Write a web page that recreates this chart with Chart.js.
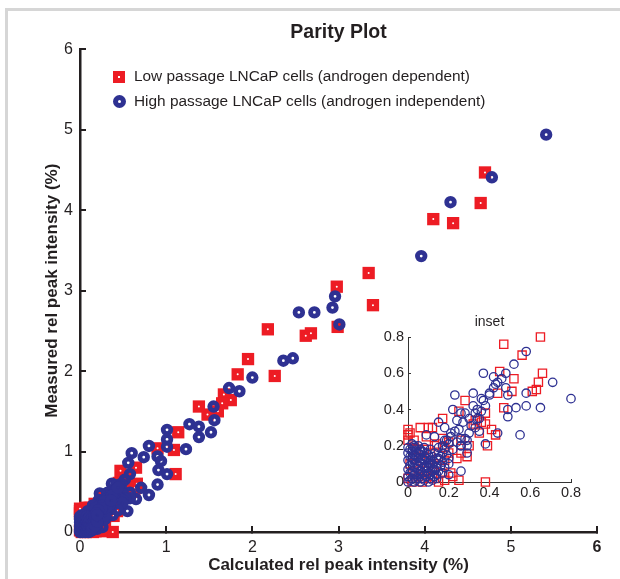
<!DOCTYPE html>
<html>
<head>
<meta charset="utf-8">
<script src="https://cdn.jsdelivr.net/npm/chart.js@4.4.1/dist/chart.umd.min.js"></script>
<style>
html, body { margin: 0; padding: 0; background: #fff; }
#wrap { position: relative; width: 620px; height: 579px; overflow: hidden; font-family: "Liberation Sans", Arial, sans-serif; color: #231F20; }
#frame { position: absolute; left: 5px; top: 8px; width: 700px; height: 700px; border-left: 3px solid #d6d6d6; border-top: 3px solid #d6d6d6; }
#main { position: absolute; left: 0; top: 0; }
#inset { position: absolute; left: 360px; top: 305px; }
.leg { position: absolute; left: 134px; font-size: 15.4px; line-height: 18px; white-space: nowrap; }
.sq { position: absolute; left: 113px; width: 12px; height: 12px; background: #ED1C24; }
.sq::after { content: ""; position: absolute; left: 5px; top: 5px; width: 2px; height: 2px; background: #fff; }
.ci { position: absolute; left: 113px; width: 13px; height: 13px; border-radius: 50%; border: 5px solid #2E3192; box-sizing: border-box; background: #fff; }
</style>
</head>
<body>
<div id="wrap">
  <div id="frame"></div>
  <canvas id="main" width="620" height="579"></canvas>
  <canvas id="inset" width="230" height="200"></canvas>
  <div class="sq" style="top:71px"></div>
  <div class="leg" style="top:67px">Low passage LNCaP cells (androgen dependent)</div>
  <div class="ci" style="top:95px"></div>
  <div class="leg" style="top:92px">High passage LNCaP cells (androgen independent)</div>
</div>
<script>
// low passage (red squares)
const lowX = [4.70, 4.65, 4.10, 4.33, 3.35, 2.98, 3.40, 2.99, 2.18, 2.62, 2.68, 1.95, 1.83, 2.26,
  1.67, 1.75, 1.65, 1.38, 1.48, 1.60, 1.14, 1.09, 0.90, 1.11, 0.65, 0.47, 0.66, 0.38, 0.00,
  0.56, 0.45, 0.52, 0.64, 0.63, 0.61, 0.51, 0.44, 0.47, 0.28, 0.25, 0.17, 0.12, 0.06, 0.00,
  0.03, 0.10, 0.38, 0.36, 0.32, 0.38, 0.41, 0.43, 0.39, 0.30, 0.26, 0.18, 0.20, 0.14, 0.08,
  0.22, 0.18, 0.13, 0.16, 0.09, 0.24, 0.29, 0.26, 0.33, 0.35,
  0.00, 0.02, 0.03, 0.05, 0.06, 0.08, 0.10, 0.12, 0.14, 0.15, 0.11, 0.04, 0.16, 0.18, 0.13,
  0.20, 0.09, 0.07, 0.17, 0.00, 0.01, 0.21, 0.25, 0.01];
const lowY = [4.47, 4.09, 3.89, 3.84, 3.22, 3.05, 2.82, 2.55, 2.52, 2.44, 2.47, 2.15, 1.96, 1.94,
  1.71, 1.64, 1.60, 1.56, 1.46, 1.50, 1.24, 1.02, 1.04, 0.72, 0.80, 0.76, 0.60, 0.00, 0.29,
  0.70, 0.61, 0.57, 0.55, 0.51, 0.50, 0.50, 0.49, 0.41, 0.45, 0.39, 0.35, 0.30, 0.30, 0.23,
  0.23, 0.30, 0.38, 0.33, 0.32, 0.32, 0.29, 0.26, 0.20, 0.20, 0.16, 0.19, 0.22, 0.21, 0.18,
  0.03, 0.01, 0.02, 0.09, 0.06, 0.13, 0.14, 0.23, 0.34, 0.27,
  0.02, 0.00, 0.06, 0.03, 0.12, 0.02, 0.08, 0.03, 0.10, 0.00, 0.16, 0.18, 0.05, 0.12, 0.20,
  0.16, 0.25, 0.00, 0.24, 0.26, 0.10, 0.05, 0.01, 0.27];
// high passage (blue circles)
const highX = [5.41, 4.78, 4.30, 3.96, 2.96, 2.93, 2.54, 2.72, 3.01, 2.36, 2.47, 2.00, 1.73, 1.85,
  1.55, 1.56, 1.27, 1.38, 1.52, 1.38, 1.01, 1.01, 1.01, 1.23, 0.80, 0.60, 0.74, 0.90, 0.94,
  0.91, 1.01, 0.56, 0.58, 0.71, 0.80, 0.90, 0.65, 0.55,
  0.52, 0.37, 0.42, 0.48, 0.46, 0.43, 0.48, 0.58, 0.49, 0.40, 0.32, 0.36, 0.23, 0.22, 0.32,
  0.33, 0.34, 0.26, 0.24, 0.15, 0.58, 0.53, 0.49, 0.49, 0.44, 0.35, 0.38, 0.29, 0.21, 0.18,
  0.13, 0.09, 0.26, 0.20, 0.29, 0.26, 0.15, 0.20, 0.11, 0.06, 0.03,
  0.22, 0.24, 0.23, 0.26, 0.28, 0.17, 0.14, 0.18, 0.26, 0.30, 0.33,
  0.29, 0.35, 0.38, 0.40, 0.42, 0.37, 0.44, 0.30, 0.34, 0.28, 0.31, 0.27, 0.36, 0.25, 0.21,
  0.00, 0.00, 0.00, 0.00, 0.00, 0.00,
  0.01, 0.01, 0.01, 0.01, 0.01,
  0.02, 0.02, 0.02, 0.02, 0.02, 0.02,
  0.03, 0.03, 0.03, 0.03, 0.03, 0.03,
  0.04, 0.04, 0.04, 0.04, 0.04,
  0.05, 0.05, 0.05, 0.05, 0.05, 0.05,
  0.06, 0.06, 0.06, 0.06, 0.06, 0.06,
  0.07, 0.07, 0.07, 0.07, 0.07,
  0.08, 0.08, 0.08, 0.08, 0.08, 0.08,
  0.09, 0.09, 0.09, 0.09, 0.09,
  0.10, 0.10, 0.10, 0.10, 0.10,
  0.11, 0.11, 0.11, 0.11, 0.11,
  0.12, 0.12, 0.12, 0.12,
  0.13, 0.13, 0.13, 0.13,
  0.14, 0.14, 0.14,
  0.15, 0.15, 0.15,
  0.16, 0.16,
  0.17, 0.17, 0.17,
  0.18, 0.18,
  0.19, 0.19,
  0.20, 0.20];
const highY = [4.94, 4.41, 4.10, 3.43, 2.93, 2.79, 2.73, 2.73, 2.58, 2.13, 2.16, 1.92, 1.79, 1.75,
  1.56, 1.39, 1.34, 1.31, 1.24, 1.18, 1.27, 1.15, 1.06, 1.03, 1.07, 0.98, 0.93, 0.94, 0.88,
  0.77, 0.72, 0.86, 0.72, 0.55, 0.46, 0.59, 0.41, 0.26,
  0.65, 0.60, 0.58, 0.60, 0.57, 0.54, 0.52, 0.49, 0.48, 0.49, 0.49, 0.46, 0.48, 0.40, 0.42,
  0.38, 0.35, 0.38, 0.34, 0.33, 0.42, 0.41, 0.40, 0.36, 0.27, 0.28, 0.21, 0.23, 0.25, 0.23,
  0.25, 0.26, 0.06, 0.04, 0.16, 0.20, 0.13, 0.10, 0.10, 0.17, 0.20,
  0.18, 0.22, 0.28, 0.20, 0.24, 0.05, 0.02, 0.30, 0.24, 0.27, 0.30,
  0.20, 0.35, 0.42, 0.48, 0.52, 0.45, 0.55, 0.35, 0.40, 0.38, 0.31, 0.33, 0.39, 0.29, 0.27,
  0.00, 0.03, 0.07, 0.12, 0.16, 0.19,
  0.01, 0.05, 0.09, 0.14, 0.18,
  0.02, 0.06, 0.11, 0.13, 0.17, 0.21,
  0.00, 0.04, 0.08, 0.12, 0.15, 0.19,
  0.01, 0.05, 0.10, 0.14, 0.17,
  0.02, 0.07, 0.09, 0.13, 0.16, 0.20,
  0.00, 0.04, 0.06, 0.11, 0.15, 0.18,
  0.02, 0.05, 0.10, 0.13, 0.17,
  0.01, 0.04, 0.08, 0.12, 0.14, 0.19,
  0.03, 0.06, 0.09, 0.13, 0.16,
  0.00, 0.05, 0.08, 0.11, 0.15,
  0.02, 0.04, 0.09, 0.12, 0.18,
  0.01, 0.06, 0.10, 0.14,
  0.03, 0.07, 0.11, 0.16,
  0.04, 0.08, 0.13,
  0.06, 0.12, 0.19,
  0.09, 0.14,
  0.11, 0.16, 0.20,
  0.08, 0.18,
  0.15, 0.23,
  0.13, 0.21];
const mainTicks = [0, 1, 2, 3, 4, 5, 6];
const insetTicks = [0, 0.2, 0.4, 0.6, 0.8];

const RED = '#ED1C24';
const BLUE = '#2E3192';
const AX = '#231F20';
Chart.defaults.font.family = '"Liberation Sans", Arial, sans-serif';
Chart.defaults.color = AX;

const pts = (xs, ys) => xs.map((x, i) => ({x: x, y: ys[i]}));
const low = pts(lowX, lowY);
const high = pts(highX, highY);

new Chart(document.getElementById('main'), {
    type: 'scatter',
    data: {
        datasets: [
            {label: 'Low passage LNCaP cells (androgen dependent)', data: low, pointStyle: 'rect',
                pointRadius: 8.7, backgroundColor: RED, borderColor: RED, borderWidth: 0, order: 3},
            {label: 'low centre', data: low, pointStyle: 'circle', pointRadius: 1,
                backgroundColor: '#fff', borderWidth: 0, order: 2},
            {label: 'High passage LNCaP cells (androgen independent)', data: high, pointStyle: 'circle',
                pointRadius: 3.8, borderWidth: 4.8, borderColor: BLUE, backgroundColor: 'rgba(0,0,0,0)', order: 1}
        ]
    },
    options: {
        responsive: false,
        animation: false,
        events: [],
        clip: false,
        layout: {padding: {top: 10, right: 23, bottom: 0, left: 0}},
        plugins: {
            legend: {display: false},
            tooltip: {enabled: false},
            title: {display: true, text: 'Parity Plot', fullSize: false, color: AX,
                font: {size: 19.5, weight: 'bold'}, padding: {top: 11, bottom: 5}}
        },
        scales: {
            x: {
                type: 'linear', min: 0, max: 6, position: 'bottom',
                afterFit: s => { s.height = 47; },
                afterBuildTicks: s => { s.ticks = mainTicks.map(v => ({value: v})); },
                border: {display: true, color: AX, width: 2.5},
                grid: {drawOnChartArea: false, drawTicks: true, tickLength: -6, color: AX, lineWidth: 2},
                ticks: {padding: 12, color: AX,
                    font: c => ({size: 16, weight: (c.tick && c.tick.value === 6) ? 'bold' : 'normal'})},
                title: {display: true, text: 'Calculated rel peak intensity (%)', color: AX,
                    font: {size: 17, weight: 'bold'}, padding: {top: 0, bottom: 3}}
            },
            y: {
                type: 'linear', min: 0, max: 6, position: 'left',
                afterFit: s => { s.width = 80; },
                afterBuildTicks: s => { s.ticks = mainTicks.map(v => ({value: v})); },
                border: {display: true, color: AX, width: 2.5},
                grid: {drawOnChartArea: false, drawTicks: true, tickLength: -6, color: AX, lineWidth: 2},
                ticks: {padding: 13, color: AX, font: {size: 16}},
                title: {display: true, text: 'Measured rel peak intensity (%)', color: AX,
                    font: {size: 17, weight: 'bold'}, padding: {top: 42, bottom: 0}}
            }
        }
    }
});

new Chart(document.getElementById('inset'), {
    type: 'scatter',
    data: {
        datasets: [
            {label: 'low', data: low, pointStyle: 'rect', pointRadius: 5.8,
                backgroundColor: 'rgba(0,0,0,0)', borderColor: RED, borderWidth: 1.3, order: 2},
            {label: 'high', data: high, pointStyle: 'circle', pointRadius: 4.2,
                backgroundColor: 'rgba(0,0,0,0)', borderColor: BLUE, borderWidth: 1.3, order: 1}
        ]
    },
    options: {
        responsive: false,
        animation: false,
        events: [],
        clip: 6,
        layout: {padding: {top: 0, right: 19, bottom: 0, left: 0}},
        plugins: {
            legend: {display: false},
            tooltip: {enabled: false},
            title: {display: true, text: 'inset', fullSize: false, color: AX,
                font: {size: 14, weight: 'normal'}, padding: {top: 8.6, bottom: 6.6}}
        },
        scales: {
            x: {
                type: 'linear', min: 0, max: 0.8,
                afterFit: s => { s.height = 23; },
                afterBuildTicks: s => { s.ticks = insetTicks.map(v => ({value: v})); },
                border: {display: true, color: '#333', width: 1},
                grid: {drawOnChartArea: false, drawTicks: true, tickLength: -3, color: '#333', lineWidth: 1},
                ticks: {padding: 5.5, color: AX, font: {size: 14.5}}
            },
            y: {
                type: 'linear', min: 0, max: 0.8,
                afterFit: s => { s.width = 48; },
                afterBuildTicks: s => { s.ticks = insetTicks.map(v => ({value: v})); },
                border: {display: true, color: '#333', width: 1},
                grid: {drawOnChartArea: false, drawTicks: true, tickLength: -3, color: '#333', lineWidth: 1},
                ticks: {padding: 7, color: AX, font: {size: 14.5}}
            }
        }
    }
});
</script>
</body>
</html>
